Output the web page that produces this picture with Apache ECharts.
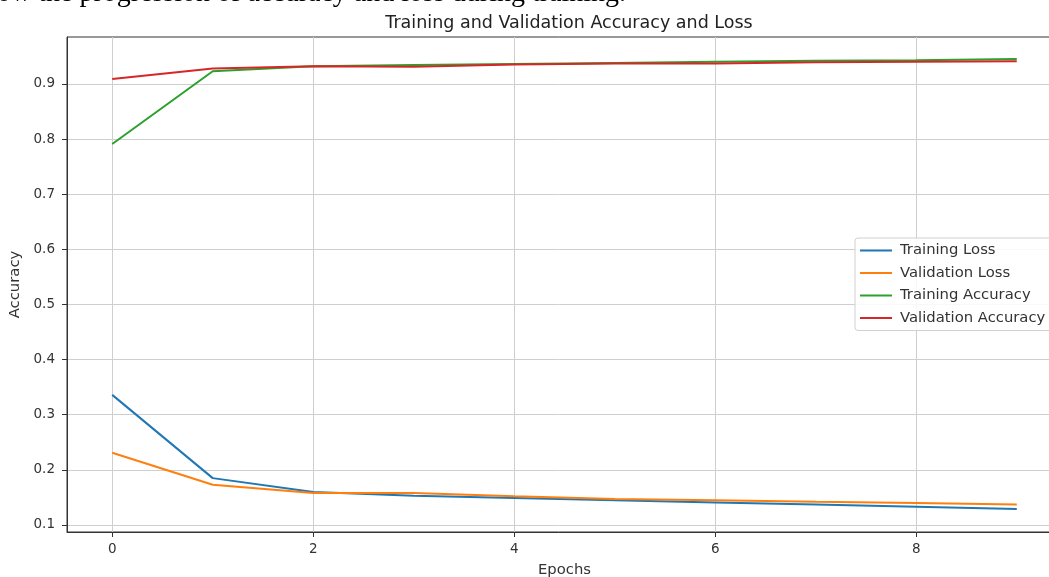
<!DOCTYPE html>
<html>
<head>
<meta charset="utf-8">
<script src="https://cdn.jsdelivr.net/npm/echarts@6/dist/echarts.min.js"></script>
<style>
html,body{margin:0;padding:0;background:#fff;}
#chart{width:1049px;height:577px;}
</style>
</head>
<body>
<div id="chart"></div>
<script>
const epochs = [0,1,2,3,4,5,6,7,8,9];
const trainingLoss = [0.336,0.185,0.160,0.153,0.149,0.145,0.141,0.137,0.133,0.129];
const validationLoss = [0.231,0.173,0.158,0.158,0.152,0.147,0.145,0.142,0.140,0.137];
const trainingAccuracy = [0.791,0.923,0.932,0.934,0.936,0.938,0.940,0.942,0.943,0.945];
const validationAccuracy = [0.909,0.928,0.932,0.931,0.935,0.937,0.937,0.939,0.940,0.941];
const xTicks = [0,2,4,6,8];
const yTicks = [0.1,0.2,0.3,0.4,0.5,0.6,0.7,0.8,0.9];

const font = 'DejaVu Sans';
function pairs(ys){ return epochs.map((e,i)=>[e, ys[i]]); }
function mk(name, ys, color){
  return {name, type:'line', data:pairs(ys), showSymbol:false, symbol:'none',
    lineStyle:{color, width:2}, itemStyle:{color}, z:3};
}

const chart = echarts.init(document.getElementById('chart'), null, {renderer:'canvas'});
chart.setOption({
  animation:false,
  backgroundColor:'#fff',
  title:{
    text:'Training and Validation Accuracy and Loss',
    left:564, top:9, textAlign:'center',
    textStyle:{fontFamily:font, fontSize:17.5, fontWeight:'normal', color:'#222'}
  },
  graphic:[{
    type:'text', left:-3, top:-20,
    style:{text:'ow the progression of accuracy and loss during training.', font:'28px "Liberation Serif"', fill:'#000'}
  }],
  grid:{left:67, top:37, width:995, height:495, outerBoundsMode:'none', containLabel:false,
    show:true, borderColor:'#333', borderWidth:1, backgroundColor:'transparent'},
  legend:{
    orient:'vertical', left:855, top:238,
    data:['Training Loss','Validation Loss','Training Accuracy','Validation Accuracy'],
    icon:'rect', itemWidth:32, itemHeight:2, itemGap:7.5,
    padding:[5,8,5,5],
    borderColor:'#d0d0d0', borderWidth:1, borderRadius:3, backgroundColor:'rgba(255,255,255,0.85)',
    textStyle:{fontFamily:font, fontSize:14.8, color:'#333', padding:[0,0,0,3]}
  },
  xAxis:{
    type:'value', min:-0.45, max:9.45,
    name:'Epochs', nameLocation:'middle', nameGap:31,
    nameTextStyle:{fontFamily:font, fontSize:14.8, color:'#333'},
    axisLine:{show:true, onZero:false, lineStyle:{color:'#333'}},
    axisTick:{show:true, length:5, customValues:xTicks, lineStyle:{color:'#333'}},
    axisLabel:{customValues:xTicks, fontFamily:font, fontSize:13.5, color:'#333', margin:10},
    splitLine:{show:true, lineStyle:{color:'#cfcfcf', width:1}}
  },
  yAxis:{
    type:'value', min:0.0873, max:0.985,
    name:'Accuracy', nameLocation:'middle', nameGap:42, nameRotate:90,
    nameTextStyle:{fontFamily:font, fontSize:14.8, color:'#333'},
    axisLine:{show:true, onZero:false, lineStyle:{color:'#333'}},
    axisTick:{show:true, length:5, customValues:yTicks, lineStyle:{color:'#333'}},
    axisLabel:{customValues:yTicks, fontFamily:font, fontSize:13.5, color:'#333', margin:12,
      formatter:v=>v.toFixed(1)},
    splitLine:{show:true, lineStyle:{color:'#cfcfcf', width:1}}
  },
  series:[
    mk('Training Loss', trainingLoss, '#1f77b4'),
    mk('Validation Loss', validationLoss, '#ff7f0e'),
    mk('Training Accuracy', trainingAccuracy, '#2ca02c'),
    mk('Validation Accuracy', validationAccuracy, '#d62728')
  ]
});
</script>
</body>
</html>
